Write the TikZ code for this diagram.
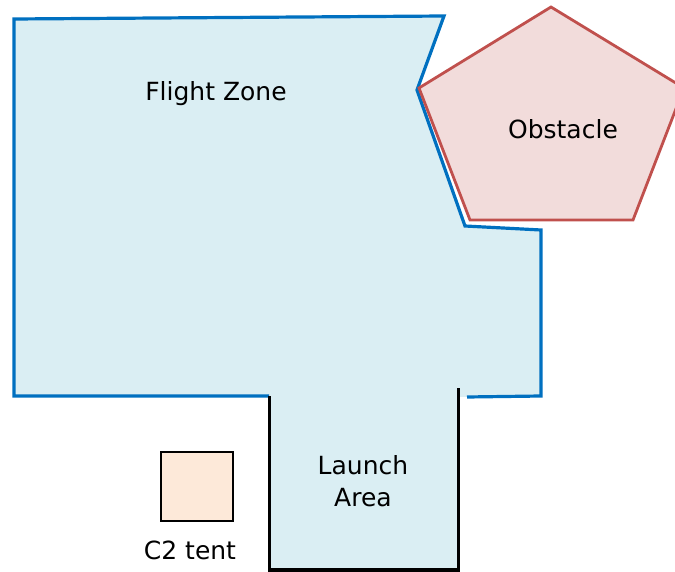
\documentclass[tikz,border=0pt]{standalone}
\usepackage{fontspec}
\setmainfont{DejaVu Sans}
\definecolor{zoneblue}{HTML}{DAEEF3}
\definecolor{zoneline}{HTML}{0070C0}
\definecolor{obsfill}{HTML}{F2DCDB}
\definecolor{obsline}{HTML}{C0504D}
\definecolor{tentfill}{HTML}{FDE9D9}
\tikzset{
  label/.style={font=\fontsize{25}{32}\selectfont, align=center}
}
\begin{document}
\begin{tikzpicture}[x=1pt,y=-1pt]
    \useasboundingbox (0,0) rectangle (675,572) ;
    \clip (0,0) rectangle (675,572) ;
    % flight zone and launch area fill
    \fill[zoneblue] (14,19)--(444,16)--(417,90)--(465,226)--(541,230)--(541,396)
        --(458,397)--(458,570)--(269,570)--(269,396)--(14,396)--cycle ;
    \draw[zoneline, line width=3.2pt, line join=miter] (269,396)--(14,396)--(14,19)--(444,16)
        --(417,90)--(465,226)--(541,230)--(541,396)--(467,397) ;
    \draw[black, line width=3.1pt, line join=miter] (458.5,388)--(458.5,570)--(269.5,570)--(269.5,396) ;
    % obstacle
    \draw[obsline, fill=obsfill, line width=2.8pt] (551,7)--(684,88)--(633,220)--(470,220)--(419,88)--cycle ;
    % tent
    \draw[black, fill=tentfill, line width=2.8pt] (161,452) rectangle (233,521) ;
    \node[label] (zone) at (216,94) {Flight Zone} ;
    \node[label] (obstacle) at (563,129) {Obstacle} ;
    \node[label] (launch) at (363,481) {Launch\\Area} ;
    \node[label] (tent) at (190,550) {C2 tent} ;
\end{tikzpicture}
\end{document}
